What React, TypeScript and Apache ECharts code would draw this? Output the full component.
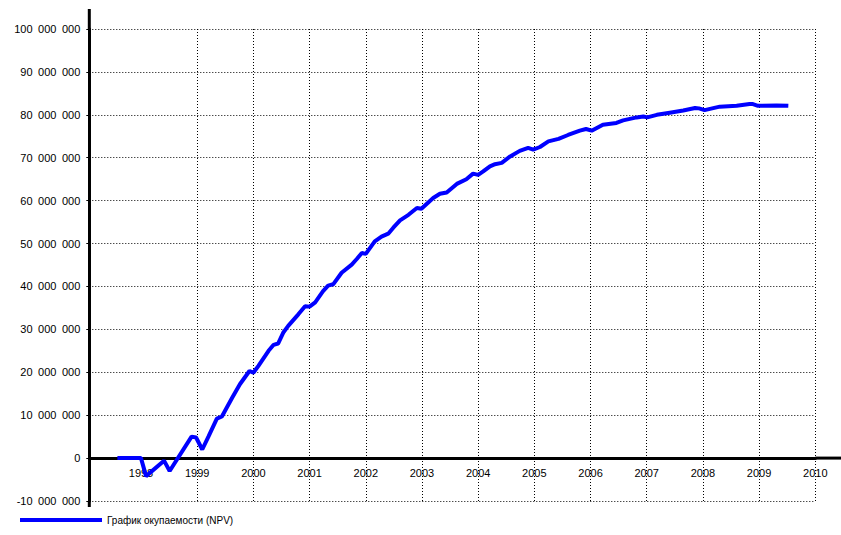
import React, { useEffect, useRef } from "react";
import * as echarts from "echarts";

const seriesName = "График окупаемости (NPV)";

const years = [
  1997.58, 1998.0, 1998.09, 1998.41, 1998.51, 1998.9, 1998.98, 1999.09, 1999.2, 1999.35,
  1999.44, 1999.62, 1999.76, 1999.93, 2000.0, 2000.09, 2000.27, 2000.36, 2000.44, 2000.53,
  2000.62, 2000.8, 2000.92, 2001.0, 2001.1, 2001.24, 2001.33, 2001.42, 2001.57, 2001.75,
  2001.84, 2001.93, 2002.0, 2002.16, 2002.28, 2002.4, 2002.49, 2002.61, 2002.76, 2002.91,
  2002.99, 2003.2, 2003.32, 2003.44, 2003.62, 2003.79, 2003.91, 2004.0, 2004.09, 2004.21,
  2004.3, 2004.42, 2004.57, 2004.74, 2004.89, 2004.98, 2005.1, 2005.25, 2005.43, 2005.6,
  2005.81, 2005.92, 2006.02, 2006.22, 2006.46, 2006.58, 2006.82, 2006.94, 2007.01, 2007.18,
  2007.41, 2007.65, 2007.86, 2007.93, 2008.03, 2008.3, 2008.6, 2008.83, 2008.89, 2008.98,
  2009.31, 2009.52,
];

// NPV in millions
const npvMillions = [
  0, 0, -4.2, -0.6, -3.0, 5.0, 4.8, 2.0, 5.0, 9.2,
  9.7, 14.0, 17.2, 20.3, 19.9, 21.5, 25.0, 26.4, 26.7, 29.2,
  30.8, 33.5, 35.4, 35.3, 36.3, 38.9, 40.2, 40.5, 43.2, 45.1,
  46.4, 47.8, 47.6, 50.5, 51.6, 52.3, 53.7, 55.4, 56.7, 58.3,
  58.1, 60.6, 61.6, 61.9, 63.9, 65.0, 66.3, 66.0, 66.8, 68.0,
  68.5, 68.8, 70.3, 71.6, 72.3, 71.9, 72.5, 73.8, 74.4, 75.3,
  76.3, 76.7, 76.3, 77.7, 78.1, 78.7, 79.4, 79.6, 79.4, 80.0,
  80.5, 81.0, 81.6, 81.5, 81.1, 81.9, 82.1, 82.5, 82.5, 82.1,
  82.2, 82.1,
];

const xTickYears = [1998, 1999, 2000, 2001, 2002, 2003, 2004, 2005, 2006, 2007, 2008, 2009, 2010];
const xMin = 1997.08;
const xMax = 2010;
const yMin = -10000000;
const yMax = 100000000;
const yStep = 10000000;

const fmtNum = (v: number) => {
  const s = String(Math.abs(Math.round(v))).replace(/\B(?=(\d{3})+(?!\d))/g, "\u2002");
  return (v < 0 ? "-" : "") + s;
};

export default function App() {
  const ref = useRef<HTMLDivElement>(null);
  useEffect(() => {
    document.body.style.margin = "0";
    const chart = echarts.init(ref.current!, null, { renderer: "svg" });
    const font = "'Liberation Sans', Arial, sans-serif";
    const data = years.map((y, i) => [y, npvMillions[i] * 1000000]);
    const dotted = { color: "#000", type: [1, 2] as any, width: 1 };
    chart.setOption({
      animation: false,
      backgroundColor: "#fff",
      textStyle: { fontFamily: font },
      grid: { left: 89.3, right: 841 - 815.3, top: 29, bottom: 535 - 501, containLabel: false },
      xAxis: {
        type: "value",
        min: xMin,
        max: xMax,
        axisLine: { onZero: true, lineStyle: { color: "#000", width: 3 } },
        axisTick: { show: false, customValues: xTickYears },
        axisLabel: {
          customValues: xTickYears,
          formatter: (v: number) => String(Math.round(v)),
          color: "#000",
          fontSize: 11,
          fontFamily: font,
          margin: -34,
        },
        splitLine: { show: true, showMinLine: false, lineStyle: dotted },
      },
      yAxis: {
        type: "value",
        min: yMin,
        max: yMax,
        interval: yStep,
        axisLine: { show: true, onZero: false, lineStyle: { color: "#000", width: 3 } },
        axisTick: { show: true, length: 3, lineStyle: { color: "#000", width: 1 } },
        axisLabel: { formatter: fmtNum, color: "#000", fontSize: 11, fontFamily: font, margin: 9 },
        splitLine: { show: true, lineStyle: dotted },
      },
      legend: {
        left: 20,
        top: 515,
        padding: 0,
        itemWidth: 82,
        itemHeight: 4,
        textStyle: { fontSize: 10, color: "#000", fontFamily: font },
        data: [{ name: seriesName, icon: "rect", itemStyle: { color: "#0000ff" } }],
      },
      series: [
        {
          name: seriesName,
          type: "line",
          data,
          showSymbol: false,
          symbol: "none",
          color: "#0000ff",
          lineStyle: { color: "#0000ff", width: 4 },
          z: 5,
        },
      ],
    });
    const [ax, yTop] = chart.convertToPixel({ gridIndex: 0 }, [xMin, yMax]) as number[];
    const [, yBot] = chart.convertToPixel({ gridIndex: 0 }, [xMin, yMin]) as number[];
    const [xRight, y0] = chart.convertToPixel({ gridIndex: 0 }, [xMax, 0]) as number[];
    const axisStyle = { stroke: "#000", lineWidth: 3 };
    chart.setOption({
      graphic: [
        { type: "line", shape: { x1: ax, y1: 9, x2: ax, y2: yTop }, style: axisStyle },
        { type: "line", shape: { x1: ax, y1: yBot, x2: ax, y2: 507 }, style: axisStyle },
        { type: "line", shape: { x1: xRight, y1: y0, x2: 841, y2: y0 }, style: axisStyle },
      ],
    });
    return () => chart.dispose();
  }, []);
  return <div ref={ref} style={{ width: 841, height: 535 }} />;
}
